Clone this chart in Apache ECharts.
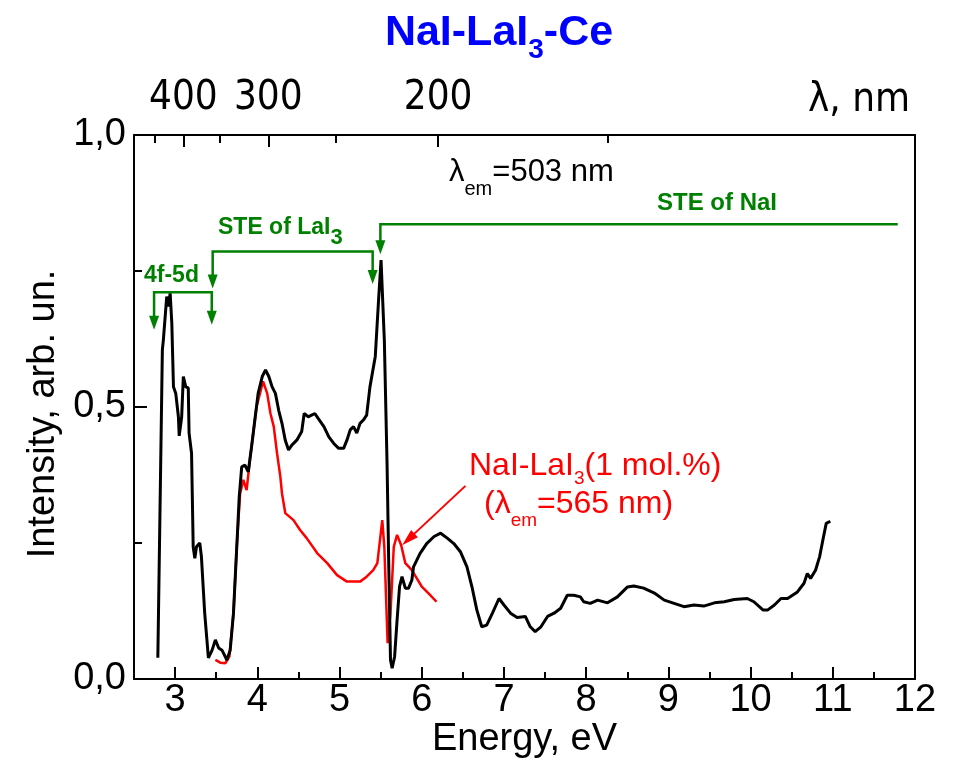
<!DOCTYPE html>
<html>
<head>
<meta charset="utf-8">
<script src="https://cdn.jsdelivr.net/npm/echarts@6/dist/echarts.min.js"></script>
<style>html,body{margin:0;padding:0;background:#fff}#c{width:953px;height:773px}</style>
</head>
<body>
<div id="c"></div>
<script>
// ---- data ----
const energyBlack = [2.79,2.845,2.857,2.898,2.92,2.94,2.96,2.98,3.008,3.04,3.05,3.08,3.10,3.12,3.13,3.16,3.17,3.20,3.22,3.24,3.26,3.30,3.32,3.36,3.405,3.45,3.49,3.53,3.57,3.63,3.67,3.71,3.75,3.78,3.81,3.85,3.89,3.93,3.97,4.01,4.06,4.10,4.14,4.18,4.22,4.26,4.30,4.34,4.38,4.42,4.48,4.54,4.57,4.62,4.66,4.70,4.74,4.81,4.87,4.93,4.99,5.05,5.09,5.13,5.17,5.21,5.25,5.29,5.33,5.37,5.435,5.475,5.505,5.545,5.578,5.60,5.62,5.64,5.67,5.70,5.73,5.76,5.80,5.84,5.88,5.90,5.98,6.06,6.15,6.23,6.31,6.39,6.47,6.55,6.61,6.67,6.73,6.79,6.86,6.94,7.00,7.08,7.16,7.26,7.32,7.38,7.45,7.53,7.61,7.69,7.77,7.85,7.93,7.97,8.05,8.14,8.26,8.38,8.50,8.58,8.70,8.83,8.95,9.07,9.19,9.31,9.43,9.56,9.68,9.80,9.96,10.04,10.15,10.21,10.29,10.37,10.45,10.57,10.65,10.69,10.73,10.79,10.84,10.88,10.92,10.97];
const intensityBlack = [0.039,0.605,0.623,0.703,0.685,0.709,0.654,0.537,0.525,0.482,0.447,0.482,0.556,0.559,0.537,0.535,0.452,0.415,0.243,0.222,0.243,0.25,0.225,0.121,0.039,0.053,0.072,0.057,0.053,0.035,0.053,0.121,0.243,0.335,0.39,0.393,0.381,0.427,0.476,0.525,0.556,0.568,0.556,0.537,0.525,0.494,0.470,0.439,0.421,0.43,0.439,0.455,0.488,0.482,0.485,0.488,0.479,0.464,0.445,0.433,0.424,0.424,0.439,0.458,0.464,0.452,0.47,0.476,0.485,0.537,0.593,0.697,0.770,0.623,0.397,0.20,0.035,0.02,0.041,0.108,0.17,0.188,0.167,0.167,0.182,0.206,0.231,0.249,0.262,0.268,0.259,0.249,0.234,0.206,0.17,0.127,0.096,0.099,0.121,0.148,0.136,0.121,0.113,0.115,0.096,0.087,0.096,0.115,0.121,0.13,0.154,0.154,0.151,0.142,0.139,0.145,0.14,0.151,0.169,0.171,0.167,0.158,0.145,0.139,0.133,0.136,0.134,0.14,0.142,0.146,0.148,0.142,0.127,0.127,0.136,0.148,0.148,0.16,0.176,0.194,0.185,0.2,0.225,0.256,0.286,0.29];
const energyRed = [3.49,3.55,3.61,3.66,3.71,3.75,3.79,3.83,3.87,3.91,3.99,4.07,4.12,4.16,4.20,4.24,4.28,4.30,4.34,4.44,4.52,4.60,4.73,4.85,4.97,5.09,5.25,5.33,5.41,5.46,5.52,5.545,5.585,5.62,5.66,5.70,5.75,5.80,5.88,5.94,6.00,6.08,6.18];
const intensityRed = [0.035,0.03,0.029,0.041,0.121,0.243,0.34,0.366,0.347,0.403,0.50,0.547,0.525,0.488,0.464,0.415,0.372,0.341,0.305,0.292,0.274,0.259,0.231,0.213,0.191,0.179,0.179,0.188,0.2,0.213,0.292,0.243,0.066,0.121,0.243,0.265,0.246,0.213,0.2,0.185,0.17,0.158,0.142];

const energyTicks = [3,4,5,6,7,8,9,10,11,12];
const energyMinorTicks = [3.5,4.5,5.5,6.5,7.5,8.5,9.5,10.5,11.5];
const wavelengthTicks = [400,300,200];
const wavelengthMinorTicks = [450,350,250,150];
const intensityTicks = [0,0.5,1];
const HC = 1240; // eV*nm

// annotation brackets (energy, intensity); arrow tips at marked ends
const bracket4f5d = [[2.744,0.642],[2.744,0.711],[3.446,0.711],[3.446,0.651]];
const bracketLaI3 = [[3.457,0.718],[3.457,0.786],[5.403,0.786],[5.403,0.726]];
const bracketNaI = [[5.497,0.781],[5.497,0.836],[11.79,0.836]];
const redArrow = [[6.532,0.355],[5.761,0.246]];

const FONT = "'Liberation Sans', Arial, sans-serif";
const NARROW = "'Liberation Sans Narrow', 'Arial Narrow', 'DejaVu Sans Condensed', sans-serif";
const GREEN = '#008000';
const RED = '#ff0000';

const mctx = document.createElement('canvas').getContext('2d');
function measure(text, font) { mctx.font = font; return mctx.measureText(text).width; }

// text with optional subscripts; parts = [[text, isSub], ...]
function label(x, capTop, parts, opt) {
  const F = opt.size, fam = opt.family || FONT, w = opt.weight || 'normal';
  const subF = opt.subSize || Math.round(F * 0.6);
  const mainFont = w + ' ' + F + 'px ' + fam;
  const subFont = w + ' ' + subF + 'px ' + fam;
  const off = opt.subOff || 0.45 * F;
  const widths = parts.map(p => measure(p[0], p[1] ? subFont : mainFont));
  const total = widths.reduce((a, b) => a + b, 0);
  let cx = opt.align === 'center' ? x - total / 2 : x;
  const midY = capTop + 0.358 * F;
  const children = parts.map((p, i) => {
    const el = {type: 'text', x: cx, y: p[1] ? midY + off : midY, silent: true,
      style: {text: p[0], font: p[1] ? subFont : mainFont, fill: opt.color, align: 'left', verticalAlign: 'middle'}};
    cx += widths[i];
    return el;
  });
  return {type: 'group', z: 100, silent: true, children: children};
}

function arrowHead(tip, from, len, half) {
  const dx = tip[0] - from[0], dy = tip[1] - from[1];
  const d = Math.hypot(dx, dy) || 1, ux = dx / d, uy = dy / d;
  const bx = tip[0] - ux * len, by = tip[1] - uy * len;
  return [[tip[0], tip[1]], [bx - uy * half, by + ux * half], [bx + uy * half, by - ux * half]];
}

function drawPath(api, pts, arrowStart, arrowEnd, color, lw, len, half) {
  const p = pts.map(q => api.coord(q));
  const out = [];
  const line = p.map(q => q.slice());
  if (arrowStart) {
    const a = p[0], b = p[1]; const d = Math.hypot(a[0]-b[0], a[1]-b[1]);
    line[0] = [a[0] + (b[0]-a[0]) * (len * 0.8) / d, a[1] + (b[1]-a[1]) * (len * 0.8) / d];
    out.push({type: 'polygon', shape: {points: arrowHead(a, b, len, half)}, style: {fill: color}});
  }
  if (arrowEnd) {
    const n = p.length, a = p[n-1], b = p[n-2]; const d = Math.hypot(a[0]-b[0], a[1]-b[1]);
    line[n-1] = [a[0] + (b[0]-a[0]) * (len * 0.8) / d, a[1] + (b[1]-a[1]) * (len * 0.8) / d];
    out.push({type: 'polygon', shape: {points: arrowHead(a, b, len, half)}, style: {fill: color}});
  }
  out.unshift({type: 'polyline', shape: {points: line}, style: {stroke: color, lineWidth: lw, fill: null}});
  return out;
}

const chart = echarts.init(document.getElementById('c'), null, {renderer: 'canvas'});
const axisLineStyle = {color: '#000', width: 2};
const option = {
  animation: false,
  backgroundColor: '#fff',
  grid: {left: 134, right: 38, top: 135, bottom: 94, containLabel: false, outerBoundsMode: 'none'},
  xAxis: [
    {type: 'value', position: 'bottom', min: 2.5, max: 12,
     axisLine: {show: true, onZero: false, lineStyle: axisLineStyle},
     axisTick: {show: true, inside: true, length: 12, lineStyle: axisLineStyle, customValues: energyTicks},
     axisLabel: {show: true, customValues: energyTicks, fontSize: 38, fontFamily: FONT, color: '#000', margin: 3},
     splitLine: {show: false},
     name: 'Energy, eV', nameLocation: 'middle', nameGap: 42, nameMoveOverlap: false,
     nameTextStyle: {fontSize: 38, fontFamily: FONT, color: '#000'}},
    {type: 'value', position: 'bottom', min: 2.5, max: 12,
     axisLine: {show: false, onZero: false},
     axisTick: {show: true, inside: true, length: 7, lineStyle: axisLineStyle, customValues: energyMinorTicks},
     axisLabel: {show: false}, splitLine: {show: false}},
    {type: 'value', position: 'top', min: 2.5, max: 12,
     axisLine: {show: true, onZero: false, lineStyle: axisLineStyle},
     axisTick: {show: true, inside: true, length: 12, lineStyle: axisLineStyle, customValues: wavelengthTicks.map(l => HC / l)},
     axisLabel: {show: true, customValues: wavelengthTicks.map(l => HC / l), formatter: v => String(Math.round(HC / v)),
                 fontSize: 40, fontFamily: NARROW, color: '#000', margin: 16},
     splitLine: {show: false}},
    {type: 'value', position: 'top', min: 2.5, max: 12,
     axisLine: {show: false, onZero: false},
     axisTick: {show: true, inside: true, length: 8, lineStyle: axisLineStyle, customValues: wavelengthMinorTicks.map(l => HC / l)},
     axisLabel: {show: false}, splitLine: {show: false}}
  ],
  yAxis: [
    {type: 'value', position: 'left', min: 0, max: 1, interval: 0.5,
     axisLine: {show: true, onZero: false, lineStyle: axisLineStyle},
     axisTick: {show: true, inside: true, length: 13, lineStyle: axisLineStyle, customValues: intensityTicks},
     minorTick: {show: true, splitNumber: 2, length: 8, lineStyle: {color: '#000', width: 2}},
     axisLabel: {show: true, customValues: intensityTicks, formatter: v => v.toFixed(1).replace('.', ','), fontSize: 38, fontFamily: FONT, color: '#000', margin: 8},
     splitLine: {show: false},
     name: 'Intensity, arb. un.', nameLocation: 'middle', nameGap: 71, nameRotate: 90, nameMoveOverlap: false,
     nameTextStyle: {fontSize: 38, fontFamily: FONT, color: '#000', padding: [0, 14, 0, 0]}},
    {type: 'value', position: 'right', min: 0, max: 1,
     axisLine: {show: true, onZero: false, lineStyle: axisLineStyle},
     axisTick: {show: false}, axisLabel: {show: false}, splitLine: {show: false}}
  ],
  series: [
    {type: 'line', name: 'red', xAxisIndex: 0, yAxisIndex: 0, showSymbol: false, symbol: 'none',
     data: energyRed.map((e, i) => [e, intensityRed[i]]),
     lineStyle: {color: RED, width: 2.5}, z: 2},
    {type: 'line', name: 'black', xAxisIndex: 0, yAxisIndex: 0, showSymbol: false, symbol: 'none',
     data: energyBlack.map((e, i) => [e, intensityBlack[i]]),
     lineStyle: {color: '#000', width: 3}, z: 3},
    {type: 'custom', xAxisIndex: 0, yAxisIndex: 0, silent: true, z: 5, clip: false,
     data: [[2.5, 0]],
     renderItem: function (params, api) {
       let children = [];
       children = children.concat(drawPath(api, bracket4f5d, true, true, GREEN, 2.5, 14, 5));
       children = children.concat(drawPath(api, bracketLaI3, true, true, GREEN, 2.5, 14, 5));
       children = children.concat(drawPath(api, bracketNaI, true, false, GREEN, 2.5, 14, 5));
       children = children.concat(drawPath(api, redArrow, false, true, RED, 2, 17, 5));
       return {type: 'group', children: children};
     }}
  ],
  graphic: [
    label(499, 18, [['NaI-LaI', 0], ['3', 1], ['-Ce', 0]], {size: 43, weight: 'bold', color: '#0000ff', align: 'center', subSize: 28, subOff: 17}),
    label(808, 86, [['λ, nm', 0]], {size: 40, family: NARROW, color: '#000'}),
    label(449, 161, [['λ', 0], ['em', 1], ['=503 nm', 0]], {size: 31, color: '#000', subSize: 20, subOff: 17}),
    label(657, 195, [['STE of NaI', 0]], {size: 24, weight: 'bold', color: GREEN}),
    label(218, 219, [['STE of LaI', 0], ['3', 1]], {size: 23, weight: 'bold', color: GREEN, subSize: 22, subOff: 11}),
    label(144, 267, [['4f-5d', 0]], {size: 23, weight: 'bold', color: GREEN}),
    label(469, 455, [['NaI-LaI', 0], ['3', 1], ['(1 mol.%)', 0]], {size: 32, color: RED, subSize: 19, subOff: 12}),
    label(484, 493, [['(λ', 0], ['em', 1], ['=565 nm)', 0]], {size: 32, color: RED, subSize: 19, subOff: 16})
  ]
};
chart.setOption(option);
</script>
</body>
</html>
